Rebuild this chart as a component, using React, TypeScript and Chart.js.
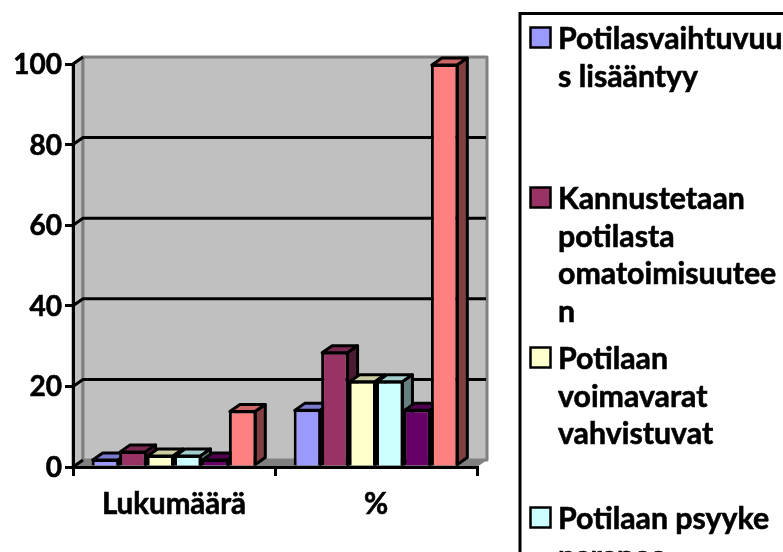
import React, { useEffect, useRef } from "react";
import { Chart, registerables } from "chart.js";

Chart.register(...registerables);

const categories = ["Lukumäärä", "%"];
const seriesNames = [
  "Potilasvaihtuvuus lisääntyy",
  "Kannustetaan potilasta omatoimisuuteen",
  "Potilaan voimavarat vahvistuvat",
  "Potilaan psyyke paranee",
  "Sarja 5",
  "Sarja 6",
];
const seriesA = [2, 14.3];
const seriesB = [4, 28.6];
const seriesC = [3, 21.4];
const seriesD = [3, 21.4];
const seriesE = [2, 14.3];
const seriesF = [14, 100];
const seriesValues = [seriesA, seriesB, seriesC, seriesD, seriesE, seriesF];

const frontColors = ["#9999FF", "#993366", "#FFFFCC", "#CCFFFF", "#660066", "#FF8080"];
const topColors = ["#7A7ACC", "#7A2952", "#CCCCA3", "#A3CCCC", "#520052", "#CC6666"];
const sideColors = ["#4D4D80", "#4D1A33", "#808066", "#668080", "#330033", "#804040"];

const legendLines = [
  ["Potilasvaihtuvuu", "s lisääntyy"],
  ["Kannustetaan", "potilasta", "omatoimisuutee", "n"],
  ["Potilaan", "voimavarat", "vahvistuvat"],
  ["Potilaan psyyke", "paranee"],
];

const FONT = "Lato, Carlito, sans-serif";
const DX = 10;
const DY = -7;

const scene = {
  id: "scene3d",
  beforeDraw(chart: any) {
    const { ctx, chartArea: a, scales } = chart;
    const { left: l, right: r, top: t, bottom: b } = a;
    ctx.save();
    ctx.lineJoin = "round";
    // floor
    ctx.fillStyle = "#808080";
    ctx.beginPath();
    ctx.moveTo(l, b);
    ctx.lineTo(l + DX, b + DY);
    ctx.lineTo(r + DX, b + DY);
    ctx.lineTo(r, b);
    ctx.closePath();
    ctx.fill();
    // side wall
    ctx.fillStyle = "#C0C0C0";
    ctx.strokeStyle = "#808080";
    ctx.lineWidth = 3;
    ctx.beginPath();
    ctx.moveTo(l, t);
    ctx.lineTo(l + DX, t + DY);
    ctx.lineTo(l + DX, b + DY);
    ctx.lineTo(l, b);
    ctx.closePath();
    ctx.fill();
    ctx.stroke();
    // back wall
    ctx.beginPath();
    ctx.rect(l + DX, t + DY, r - l, b - t);
    ctx.fill();
    ctx.stroke();
    // gridlines on the back wall and the side wall
    const y = scales.y;
    ctx.strokeStyle = "#000";
    ctx.lineWidth = 3;
    y.ticks.forEach((tk: any) => {
      const py = y.getPixelForValue(tk.value);
      ctx.beginPath();
      ctx.moveTo(l, py);
      ctx.lineTo(l + DX, py + DY);
      if (tk.value !== 0 && tk.value !== 100) ctx.lineTo(r + DX - 1, py + DY);
      ctx.stroke();
    });
    ctx.restore();
  },
  beforeDatasetsDraw(chart: any) {
    const { ctx } = chart;
    seriesValues.forEach((_, i) => {
      const meta = chart.getDatasetMeta(i);
      ctx.save();
      ctx.strokeStyle = "#000";
      ctx.lineWidth = 3;
      ctx.lineJoin = "round";
      meta.data.forEach((bar: any) => {
        const L = bar.x - bar.width / 2 + 1;
        const R = bar.x + bar.width / 2 - 1;
        const T = bar.y + 1;
        const B = bar.base - 1;
        ctx.fillStyle = topColors[i];
        ctx.beginPath();
        ctx.moveTo(L, T);
        ctx.lineTo(L + DX, T + DY);
        ctx.lineTo(R + DX, T + DY);
        ctx.lineTo(R, T);
        ctx.closePath();
        ctx.fill();
        ctx.stroke();
        ctx.fillStyle = sideColors[i];
        ctx.beginPath();
        ctx.moveTo(R, T);
        ctx.lineTo(R + DX, T + DY);
        ctx.lineTo(R + DX, B + DY);
        ctx.lineTo(R, B);
        ctx.closePath();
        ctx.fill();
        ctx.stroke();
      });
      ctx.restore();
      meta.controller.draw();
    });
    return false;
  },
  afterDraw(chart: any) {
    const { ctx } = chart;
    ctx.save();
    // legend frame, which runs off the picture
    ctx.strokeStyle = "#000";
    ctx.lineWidth = 3;
    ctx.beginPath();
    ctx.moveTo(520, 560);
    ctx.lineTo(520, 13.5);
    ctx.lineTo(790, 13.5);
    ctx.stroke();
    ctx.font = `bold 30.3px ${FONT}`;
    ctx.textBaseline = "alphabetic";
    ctx.textAlign = "left";
    legendLines.forEach((lines, i) => {
      const y0 = 160 * i;
      ctx.fillStyle = frontColors[i];
      ctx.fillRect(530.5, 27.5 + y0, 20, 20);
      ctx.strokeStyle = "#000";
      ctx.lineWidth = 2.5;
      ctx.strokeRect(530.5, 27.5 + y0, 20, 20);
      ctx.fillStyle = "#000";
      ctx.lineWidth = 0.6;
      lines.forEach((line, j) => {
        ctx.fillText(line, 558, 49 + y0 + j * 37.5);
        ctx.strokeText(line, 558, 49 + y0 + j * 37.5);
      });
    });
    ctx.restore();
  },
};

export default function App() {
  const ref = useRef<HTMLCanvasElement>(null);
  useEffect(() => {
    const chart = new Chart(ref.current as HTMLCanvasElement, {
      type: "bar",
      data: {
        labels: categories,
        datasets: seriesValues.map((data, i) => ({
          label: seriesNames[i],
          data,
          backgroundColor: frontColors[i],
          borderColor: "#000",
          borderWidth: 3,
          categoryPercentage: 0.815,
          barPercentage: 1,
        })),
      },
      options: {
        responsive: false,
        animation: false,
        layout: { padding: { left: 0, right: 306, top: 64, bottom: 0 } },
        plugins: { legend: { display: false }, tooltip: { enabled: false } },
        scales: {
          x: {
            afterFit: (s: any) => {
              s.height = 85;
            },
            grid: { drawOnChartArea: false, color: "#000", lineWidth: 3, tickLength: 9 },
            border: { display: true, color: "#000", width: 3 },
            ticks: {
              color: "#000",
              font: { family: FONT, weight: "bold", size: 29.5 },
              padding: 11,
              maxRotation: 0,
              textStrokeColor: "#000",
              textStrokeWidth: 0.6,
            },
          },
          y: {
            min: 0,
            max: 100,
            afterFit: (s: any) => {
              s.width = 73;
            },
            grid: { drawOnChartArea: false, color: "#000", lineWidth: 3, tickLength: 8 },
            border: { display: true, color: "#000", width: 3 },
            ticks: {
              stepSize: 20,
              color: "#000",
              font: { family: FONT, weight: "bold", size: 28 },
              padding: 3,
              labelOffset: 1,
              textStrokeColor: "#000",
              textStrokeWidth: 0.6,
            },
          },
        },
      },
      plugins: [scene],
    } as any);
    return () => chart.destroy();
  }, []);
  return (
    <canvas
      ref={ref}
      width={783}
      height={552}
      style={{ position: "absolute", left: 0, top: 0, display: "block" }}
    />
  );
}
